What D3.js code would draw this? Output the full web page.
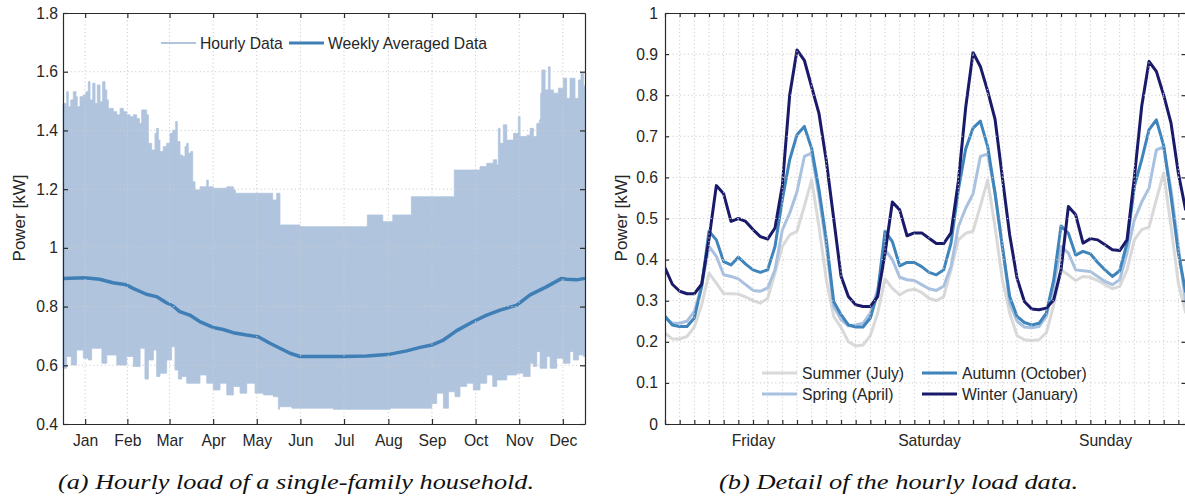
<html>
<head>
<meta charset="UTF-8">
<title>Household load</title>
<script src="https://d3js.org/d3.v7.min.js"></script>
<style>
body { margin: 0; background: white; }
text { font-family: "Liberation Sans", Arial, sans-serif; fill: #262626; }
.axis path, .axis line { stroke: #2b2b2b; stroke-width: 1.2; }
.axis text { font-size: 15.7px; fill: #262626; font-family: "Liberation Sans", Arial, sans-serif; }
.grid line { stroke: #cdcdcd; stroke-width: 1; stroke-dasharray: 1.2,2.6; }
.caption { font-family: "Liberation Serif", serif; font-style: italic; font-size: 22px; fill: #111; }
</style>
<script>
// ---- (a) hourly load, whole year ----
var months = ["Jan","Feb","Mar","Apr","May","Jun","Jul","Aug","Sep","Oct","Nov","Dec"];
var monthTickDays = [15.5, 45, 74.5, 105, 135.5, 166, 196.5, 227.5, 258, 288.5, 319, 349.5];
var yTicksA = [0.4, 0.6, 0.8, 1, 1.2, 1.4, 1.6, 1.8];

// upper / lower edge of the hourly data band (day of year, kW)
var upperDay = [0,2.6,3.7,5.4,7.2,9.1,10,11.9,14.2,16.1,17.7,18.9,20.8,22.4,24,25.9,27.7,29.4,30.6,31.7,35.2,37.6,39.9,42.2,44.5,46.9,49.2,51.5,53.4,55,56.6,58.5,59.7,62,64.3,65.5,66.7,67.8,70.1,72.5,74.8,76.7,78.8,79.9,81.8,83.7,85.3,86.5,87.6,89.3,90.7,92.3,95.8,100.5,101.6,105.1,114.5,119.1,120.5,133.1,144.8,146.6,148.3,149.4,151.3,151.7,165.7,212.4,212.8,222.9,223.6,229.9,230.6,243.1,243.6,273,273.6,286.9,291.6,296.3,300.9,303.3,304.4,305.6,307.9,310.3,315,318.4,319.6,324.3,326.6,328.9,331.3,333.1,334,334.8,337.1,339.4,340.6,342.9,346.4,349.9,352.2,354.5,358,360.4,362.2,363.9,365];
var upperKw = [1.492,1.532,1.481,1.504,1.532,1.515,1.481,1.515,1.521,1.532,1.566,1.504,1.561,1.492,1.555,1.498,1.566,1.538,1.504,1.475,1.464,1.453,1.475,1.464,1.453,1.447,1.453,1.441,1.424,1.470,1.470,1.453,1.356,1.333,1.390,1.407,1.367,1.328,1.345,1.356,1.390,1.401,1.430,1.362,1.316,1.311,1.345,1.356,1.322,1.328,1.225,1.197,1.208,1.231,1.208,1.203,1.208,1.197,1.186,1.186,1.186,1.163,1.163,1.186,1.186,1.078,1.072,1.074,1.112,1.112,1.089,1.089,1.112,1.112,1.174,1.174,1.265,1.265,1.277,1.288,1.30,1.282,1.407,1.356,1.419,1.367,1.390,1.447,1.379,1.384,1.407,1.379,1.424,1.436,1.527,1.606,1.538,1.617,1.538,1.527,1.544,1.578,1.509,1.578,1.509,1.572,1.595,1.549,1.555];
var lowerDay = [0,2.6,5.8,9.5,14.2,17.7,20,27.2,30.6,37.6,44.5,49.2,53.9,57.3,59.7,63.2,65.5,67.8,72.5,75.9,78.3,80.7,83,86.5,91.2,95.8,100.5,105.1,109.8,114.5,119.1,123.8,128.5,134.3,140.2,147.1,150.6,151.3,160,165.7,189,228.7,257.8,261.3,266,269.5,274.1,277.6,282.3,286.9,291.6,296.3,300.5,303.3,310.3,317.3,321.9,326.6,328.9,331.3,333.6,338.3,340.6,345.2,349.9,354.5,356.9,360.4,363.9,365];
var lowerKw = [0.618,0.590,0.630,0.601,0.652,0.624,0.618,0.658,0.607,0.635,0.601,0.630,0.596,0.658,0.553,0.618,0.652,0.562,0.573,0.618,0.663,0.584,0.553,0.562,0.539,0.539,0.567,0.539,0.516,0.539,0.499,0.528,0.505,0.539,0.505,0.499,0.493,0.450,0.459,0.454,0.454,0.450,0.454,0.470,0.505,0.454,0.510,0.493,0.528,0.539,0.516,0.539,0.567,0.528,0.550,0.567,0.573,0.562,0.607,0.596,0.647,0.590,0.630,0.590,0.624,0.607,0.647,0.618,0.635,0.630];

// weekly averaged data
var weeklyDay = [0,15.1,25.6,34.9,44.3,49,58.3,65.3,72.3,77,81.6,88.6,95.6,105,112,119,128.3,136.5,144.7,151.7,158.7,165.7,196,212.4,228.7,240.3,249.7,257.8,266,275.3,286.9,296.3,305.6,317.3,326.6,338.3,348.7,352.2,359.2,365];
var weeklyKw = [0.896,0.898,0.893,0.881,0.874,0.862,0.842,0.834,0.813,0.802,0.783,0.771,0.749,0.729,0.722,0.711,0.703,0.697,0.675,0.658,0.641,0.630,0.630,0.632,0.638,0.649,0.661,0.669,0.686,0.718,0.749,0.771,0.788,0.805,0.840,0.868,0.896,0.893,0.891,0.896];

// ---- (b) detail, Friday 00:00 .. Sunday 23:00 ----
var dayLabels = ["Friday","Saturday","Sunday"];
var dayLabelHours = [12, 36, 60];
var yTicksB = [0, 0.1, 0.2, 0.3, 0.4, 0.5, 0.6, 0.7, 0.8, 0.9, 1];
var seasonNames = ["Summer (July)","Spring (April)","Autumn (October)","Winter (January)"];
var summerKw = [0.221,0.207,0.207,0.213,0.236,0.29,0.367,0.343,0.317,0.317,0.316,0.309,0.30,0.294,0.306,0.367,0.432,0.46,0.469,0.53,0.594,0.48,0.351,0.262,0.235,0.20,0.19,0.192,0.215,0.27,0.353,0.33,0.314,0.325,0.328,0.32,0.306,0.30,0.31,0.375,0.448,0.464,0.469,0.53,0.594,0.48,0.351,0.27,0.215,0.205,0.203,0.205,0.222,0.29,0.375,0.363,0.349,0.359,0.357,0.349,0.339,0.329,0.335,0.375,0.448,0.473,0.479,0.546,0.611,0.48,0.343,0.27];
var springKw = [0.258,0.245,0.245,0.25,0.274,0.335,0.432,0.408,0.363,0.359,0.353,0.339,0.325,0.323,0.331,0.375,0.472,0.513,0.565,0.651,0.659,0.554,0.432,0.286,0.254,0.239,0.241,0.245,0.27,0.327,0.424,0.40,0.357,0.351,0.349,0.339,0.329,0.325,0.335,0.383,0.48,0.525,0.56,0.651,0.657,0.562,0.432,0.294,0.25,0.236,0.234,0.237,0.262,0.335,0.432,0.416,0.375,0.373,0.371,0.359,0.347,0.339,0.351,0.416,0.497,0.54,0.574,0.667,0.674,0.57,0.432,0.294];
var autumnKw = [0.262,0.241,0.237,0.237,0.258,0.335,0.469,0.448,0.395,0.387,0.406,0.389,0.375,0.369,0.375,0.432,0.546,0.643,0.704,0.724,0.67,0.57,0.448,0.298,0.266,0.241,0.236,0.236,0.258,0.319,0.469,0.444,0.385,0.393,0.393,0.383,0.369,0.363,0.375,0.44,0.57,0.669,0.72,0.737,0.675,0.562,0.432,0.31,0.262,0.247,0.241,0.245,0.27,0.35,0.482,0.464,0.411,0.42,0.414,0.393,0.375,0.359,0.373,0.44,0.578,0.643,0.716,0.74,0.677,0.554,0.416,0.32];
var winterKw = [0.38,0.34,0.323,0.317,0.317,0.34,0.45,0.58,0.56,0.493,0.50,0.493,0.473,0.456,0.45,0.477,0.58,0.80,0.91,0.885,0.82,0.755,0.64,0.50,0.36,0.31,0.29,0.286,0.286,0.31,0.415,0.54,0.521,0.458,0.465,0.465,0.452,0.439,0.439,0.465,0.59,0.77,0.904,0.87,0.81,0.742,0.60,0.46,0.355,0.298,0.28,0.278,0.282,0.302,0.375,0.529,0.509,0.44,0.451,0.448,0.436,0.424,0.422,0.448,0.60,0.773,0.882,0.858,0.80,0.732,0.61,0.52];
</script>
</head>
<body onload="init()">
<svg id="chart" width="1185" height="496"></svg>
<script>
function init() {
  var svg = d3.select("#chart");
  svg.append("rect").attr("width", 1185).attr("height", 496).attr("fill", "white");

  var hourlyColor = "#b0c4de";
  var weeklyColor = "#3f7fb6";
  var seasonColors = ["#d9d9d9", "#a9c1e0", "#3f84bb", "#1a1a6b"];
  var seasonData = [summerKw, springKw, autumnKw, winterKw];

  //////////////////////////////// chart (a)
  var xA = d3.scaleLinear().domain([0, 365]).range([63, 585]);
  var yA = d3.scaleLinear().domain([0.4, 1.8]).range([424, 13]);

  var upper = upperDay.map(function(d, i) { return [d, upperKw[i]]; });
  var lower = lowerDay.map(function(d, i) { return [d, lowerKw[i]]; });
  var band = upper.concat(lower.slice().reverse());
  // hourly values are dense, so the band edges are drawn as steps
  var bandLine = d3.line().curve(d3.curveStepAfter)
    .x(function(d) { return xA(d[0]); }).y(function(d) { return yA(d[1]); });
  var lineA = d3.line().x(function(d) { return xA(d[0]); }).y(function(d) { return yA(d[1]); });

  svg.append("path").attr("d", bandLine(band) + "Z")
    .attr("fill", hourlyColor).attr("stroke", hourlyColor).attr("stroke-width", 0.8);

  var weekly = weeklyDay.map(function(d, i) { return [d, weeklyKw[i]]; });
  svg.append("path").attr("d", lineA(weekly))
    .attr("fill", "none").attr("stroke", weeklyColor).attr("stroke-width", 3.5)
    .attr("stroke-linejoin", "round");

  // grid on top (light dotted)
  var gA = svg.append("g").attr("class", "grid");
  gA.selectAll(".v").data(monthTickDays).enter().append("line")
    .attr("x1", function(d) { return xA(d); }).attr("x2", function(d) { return xA(d); })
    .attr("y1", 13).attr("y2", 424);
  gA.selectAll(".h").data(yTicksA.slice(1, -1)).enter().append("line")
    .attr("y1", function(d) { return yA(d); }).attr("y2", function(d) { return yA(d); })
    .attr("x1", 63).attr("x2", 585);

  svg.append("g").attr("class", "axis").attr("transform", "translate(0,424)")
    .call(d3.axisBottom(xA).tickValues(monthTickDays).tickFormat(function(d, i) { return months[i]; })
      .tickSizeInner(-5).tickSizeOuter(0).tickPadding(11));
  svg.append("g").attr("class", "axis").attr("transform", "translate(0,13)")
    .call(d3.axisTop(xA).tickValues(monthTickDays).tickFormat("").tickSizeInner(-5).tickSizeOuter(0));
  svg.append("g").attr("class", "axis").attr("transform", "translate(63,0)")
    .call(d3.axisLeft(yA).tickValues(yTicksA).tickFormat(d3.format("~g"))
      .tickSizeInner(-5).tickSizeOuter(0).tickPadding(5));
  svg.append("g").attr("class", "axis").attr("transform", "translate(585,0)")
    .call(d3.axisRight(yA).tickValues(yTicksA).tickFormat("").tickSizeInner(-5).tickSizeOuter(0));

  svg.append("text").attr("transform", "translate(25,218) rotate(-90)")
    .attr("text-anchor", "middle").style("font-size", "17px").text("Power [kW]");

  // legend (a)
  var legA = svg.append("g");
  legA.append("line").attr("x1", 161).attr("x2", 196).attr("y1", 43).attr("y2", 43)
    .attr("stroke", hourlyColor).attr("stroke-width", 2);
  legA.append("text").attr("x", 200).attr("y", 49).style("font-size", "15.7px").text("Hourly Data");
  legA.append("line").attr("x1", 289).attr("x2", 324).attr("y1", 43).attr("y2", 43)
    .attr("stroke", weeklyColor).attr("stroke-width", 3);
  legA.append("text").attr("x", 328).attr("y", 49).style("font-size", "15.7px").text("Weekly Averaged Data");

  //////////////////////////////// chart (b)
  var xB = d3.scaleLinear().domain([0, 71]).range([665, 1185.7]);
  var yB = d3.scaleLinear().domain([0, 1]).range([424, 13]);
  var hourTicks = [];
  for (var h = 0; h <= 70; h += 2) hourTicks.push(h);

  svg.append("clipPath").attr("id", "clipB").append("rect")
    .attr("x", 665).attr("y", 13).attr("width", 521).attr("height", 411);

  var lineB = d3.line().x(function(d, i) { return xB(i); }).y(function(d) { return yB(d); });
  svg.append("g").attr("clip-path", "url(#clipB)")
    .selectAll("path").data(seasonData).enter().append("path")
    .attr("d", function(d) { return lineB(d); })
    .attr("fill", "none").attr("stroke", function(d, i) { return seasonColors[i]; })
    .attr("stroke-width", 3).attr("stroke-linejoin", "round");

  var gB = svg.append("g").attr("class", "grid");
  gB.selectAll(".v").data(hourTicks.slice(1)).enter().append("line")
    .attr("x1", function(d) { return xB(d); }).attr("x2", function(d) { return xB(d); })
    .attr("y1", 13).attr("y2", 424);
  gB.selectAll(".h").data(yTicksB.slice(1, -1)).enter().append("line")
    .attr("y1", function(d) { return yB(d); }).attr("y2", function(d) { return yB(d); })
    .attr("x1", 665).attr("x2", 1185);

  svg.append("g").attr("class", "axis").attr("transform", "translate(0,424)")
    .call(d3.axisBottom(xB).tickValues(hourTicks).tickFormat("").tickSizeInner(-4).tickSizeOuter(0));
  svg.append("g").attr("class", "axis").attr("transform", "translate(0,424)")
    .call(d3.axisBottom(xB).tickValues(dayLabelHours).tickFormat(function(d, i) { return dayLabels[i]; })
      .tickSizeInner(0).tickSizeOuter(0).tickPadding(11))
    .select(".domain").remove();
  svg.append("g").attr("class", "axis").attr("transform", "translate(0,13)")
    .call(d3.axisTop(xB).tickValues(hourTicks).tickFormat("").tickSizeInner(-4).tickSizeOuter(0));
  svg.append("g").attr("class", "axis").attr("transform", "translate(665,0)")
    .call(d3.axisLeft(yB).tickValues(yTicksB).tickFormat(d3.format("~g"))
      .tickSizeInner(-4).tickSizeOuter(0).tickPadding(7));
  svg.append("g").attr("class", "axis").attr("transform", "translate(1185.5,0)")
    .call(d3.axisRight(yB).tickValues(yTicksB).tickFormat("").tickSizeInner(-4).tickSizeOuter(0));

  svg.append("text").attr("transform", "translate(627,218) rotate(-90)")
    .attr("text-anchor", "middle").style("font-size", "17px").text("Power [kW]");

  // legend (b), two columns
  var legX = [762, 922], legY = [373, 394];
  var legB = svg.append("g").selectAll("g").data(seasonNames).enter().append("g")
    .attr("transform", function(d, i) { return "translate(" + legX[Math.floor(i / 2)] + "," + legY[i % 2] + ")"; });
  legB.append("line").attr("x1", 0).attr("x2", 35).attr("y1", 0).attr("y2", 0)
    .attr("stroke", function(d, i) { return seasonColors[i]; }).attr("stroke-width", 3);
  legB.append("text").attr("x", 40).attr("y", 6).style("font-size", "15.7px").text(function(d) { return d; });

  // captions
  svg.append("text").attr("class", "caption").attr("x", 58).attr("y", 489)
    .attr("textLength", 476).attr("lengthAdjust", "spacingAndGlyphs")
    .text("(a) Hourly load of a single-family household.");
  svg.append("text").attr("class", "caption").attr("x", 719).attr("y", 489)
    .attr("textLength", 359).attr("lengthAdjust", "spacingAndGlyphs")
    .text("(b) Detail of the hourly load data.");
}
</script>
</body>
</html>
